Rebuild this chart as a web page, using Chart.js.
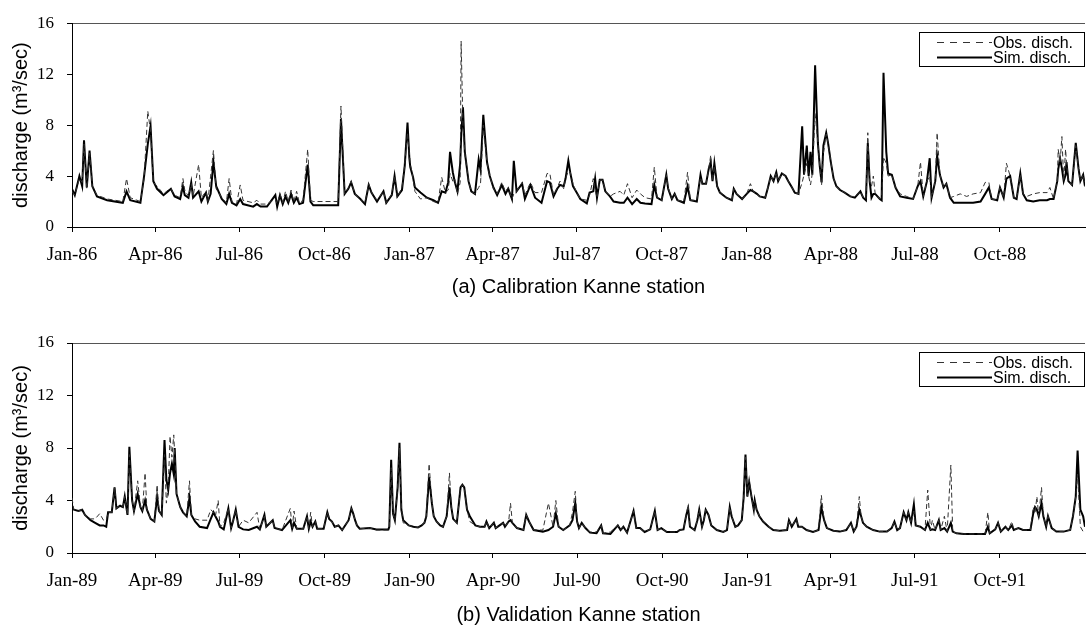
<!DOCTYPE html>
<html>
<head>
<meta charset="utf-8">
<title>Kanne station discharge</title>
<script src="https://cdn.jsdelivr.net/npm/chart.js@4/dist/chart.umd.min.js"></script>
<style>
  html, body { margin: 0; padding: 0; background: #fff; }
  .panel { position: absolute; left: 0; width: 1086px; height: 313px; }
  #panelA { top: 0; }
  #panelB { top: 313px; }
</style>
</head>
<body>
<div class="panel" id="panelA"><canvas id="chartA"></canvas></div>
<div class="panel" id="panelB"><canvas id="chartB"></canvas></div>
<script>
// (a) calibration 1986-1988, x = days since 1 Jan 1986
const calDays = [
  0,3,8,11,13,16,19,22,27,38,
  55,59,63,74,78,82,85,88,92,99,
  104,107,111,117,120,122,126,129,131,137,
  140,145,147,150,153,156,162,167,170,173,
  178,182,185,196,200,204,211,220,222,225,
  228,231,234,237,240,243,246,250,255,258,
  261,288,291,295,299,302,306,312,317,321,
  324,330,337,340,346,349,352,357,360,363,
  365,366,369,371,377,384,391,396,400,404,
  407,409,412,414,417,420,421,423,425,429,
  432,436,440,442,445,449,452,456,460,465,
  469,472,476,478,481,487,490,496,501,508,
  514,517,521,525,528,532,534,537,539,542,
  546,550,557,560,564,566,568,571,574,577,
  582,586,593,597,601,606,611,615,620,627,
  630,633,638,643,645,649,652,655,662,666,
  669,676,680,682,686,689,691,693,695,698,
  701,708,714,716,719,725,730,734,737,741,
  744,750,753,756,759,762,764,768,772,775,
  779,782,786,790,792,795,797,799,801,804,
  807,809,811,813,816,818,821,824,827,831,
  836,842,847,853,856,859,861,863,865,867,
  869,874,876,878,881,883,887,891,896,903,
  910,915,918,921,925,928,930,934,936,939,
  943,946,950,954,961,968,975,983,988,992,
  995,1001,1004,1008,1011,1015,1019,1022,1026,1029,
  1033,1040,1047,1055,1058,1062,1066,1067,1069,1071,
  1073,1075,1076,1078,1082,1086,1089,1091,1094,1096
];
const calObs = [
  2.8,2.5,3.8,3.5,6.5,3.0,5.8,3.2,2.5,2.2,
  2.0,3.8,2.3,2.0,3.8,9.1,7.5,3.5,3.2,2.6,
  2.9,3.0,2.5,2.3,3.8,2.9,2.4,3.4,2.4,4.9,
  2.3,2.8,2.0,4.0,6.0,3.0,2.3,1.9,3.8,2.0,
  1.8,3.3,2.1,1.9,2.1,1.8,1.8,2.2,1.8,2.6,
  1.9,2.8,2.0,2.9,2.0,2.8,1.9,2.1,6.1,2.1,
  2.0,2.0,9.5,2.6,3.1,3.6,2.6,2.2,1.9,3.4,
  2.7,2.1,2.8,1.9,2.6,4.0,2.3,3.1,4.9,7.4,
  5.6,5.0,3.8,2.8,2.2,2.3,2.0,1.9,3.9,2.7,
  2.9,4.2,3.6,3.8,2.6,3.5,14.6,8.0,5.8,3.6,
  2.8,2.6,3.1,3.4,8.0,5.0,4.0,3.0,2.6,3.5,
  2.8,3.1,2.2,2.6,2.8,3.5,2.5,3.5,2.7,2.7,
  4.2,4.2,2.5,3.1,3.6,3.0,3.8,4.4,4.3,3.4,
  2.7,2.2,2.1,2.5,3.8,2.9,2.3,3.7,3.7,2.8,
  2.4,2.6,2.8,2.5,3.4,2.3,2.9,2.6,2.3,2.2,
  4.7,2.3,2.1,4.1,3.1,2.2,2.6,2.1,2.0,4.3,
  2.1,2.1,3.9,3.4,3.4,4.6,5.6,3.6,4.8,3.2,
  2.7,2.3,2.1,3.0,2.6,2.2,2.6,3.4,2.8,2.6,
  2.4,2.3,3.1,4.0,3.6,4.3,3.6,4.2,4.0,3.6,
  3.1,2.7,2.6,3.5,4.1,5.0,4.0,3.3,4.2,8.9,
  6.6,4.8,3.3,5.8,7.3,6.6,5.1,3.8,3.2,2.9,
  2.7,2.4,2.4,2.8,2.3,2.2,7.4,3.6,3.2,4.0,
  2.6,2.2,2.3,5.5,5.0,4.0,4.1,3.1,2.6,2.4,
  2.2,3.2,5.1,2.4,3.6,4.0,2.3,3.6,7.4,4.1,
  3.1,3.4,2.3,2.4,2.6,2.4,2.6,2.7,3.5,3.5,
  2.2,2.1,3.1,2.3,5.0,4.0,2.3,2.2,4.1,2.6,
  2.4,2.6,2.7,2.7,3.1,2.2,3.6,6.1,5.0,7.1,
  3.6,6.1,5.0,3.6,3.3,6.4,4.6,3.6,4.1,3.2
];
const calSim = [
  3.0,2.5,4.0,3.2,6.8,3.1,6.0,3.2,2.4,2.1,
  1.9,2.8,2.1,1.9,4.0,6.5,7.9,3.6,3.0,2.5,
  2.8,3.0,2.4,2.2,3.2,2.5,2.3,3.5,2.3,2.8,
  2.0,2.7,2.0,2.6,5.1,3.2,2.2,1.8,2.6,1.9,
  1.7,2.2,1.8,1.6,1.8,1.6,1.6,2.5,1.6,2.5,
  1.8,2.4,1.9,2.6,1.9,2.3,1.8,1.9,4.9,2.0,
  1.7,1.7,8.5,2.6,3.0,3.5,2.6,2.2,1.8,3.3,
  2.7,2.0,2.8,1.9,2.5,4.0,2.4,2.9,4.8,8.2,
  5.4,4.7,3.9,3.1,2.7,2.3,2.1,1.9,2.8,2.7,
  3.5,5.9,4.3,3.6,2.8,5.0,7.0,9.4,5.9,3.6,
  2.8,2.6,5.3,4.5,8.8,5.1,4.0,3.1,2.5,3.3,
  2.6,3.0,2.2,5.2,2.8,3.4,2.2,3.3,2.3,1.9,
  3.6,3.5,2.4,3.0,3.3,3.2,3.8,5.2,4.3,3.2,
  2.7,2.2,1.85,2.7,2.8,3.8,2.3,3.7,3.7,2.8,
  2.4,2.0,1.9,1.9,2.3,1.8,2.2,1.9,1.85,1.8,
  3.3,2.3,2.1,4.1,3.0,2.2,2.6,2.1,1.9,3.2,
  2.1,2.0,4.1,3.4,3.4,4.6,5.1,3.6,5.0,3.2,
  2.7,2.3,2.1,3.0,2.6,2.2,2.6,2.9,2.8,2.6,
  2.4,2.3,3.1,4.0,3.6,4.3,3.6,4.2,4.0,3.6,
  3.1,2.7,2.6,7.9,4.1,6.4,4.0,5.9,4.1,12.7,
  6.6,4.8,3.5,6.4,7.4,6.6,5.1,3.8,3.2,2.9,
  2.7,2.4,2.3,2.8,2.3,2.1,6.6,3.6,2.3,2.6,
  2.6,2.2,2.1,12.1,5.9,4.2,4.1,3.1,2.4,2.3,
  2.2,3.2,3.6,2.4,3.6,5.4,2.3,3.6,5.6,4.1,
  3.1,3.4,2.3,1.9,1.9,1.9,1.9,2.0,2.6,3.1,
  2.2,2.1,3.1,2.3,3.8,4.0,2.3,2.2,4.2,2.6,
  2.1,2.0,2.1,2.1,2.2,2.2,3.6,4.5,5.4,4.6,
  3.6,4.1,5.1,3.6,3.3,6.6,4.6,3.6,4.1,3.2
];
const calTickDays = [0, 90, 181, 273, 365, 455, 546, 638, 730, 821, 912, 1004];
const calTickLabels = ['Jan-86', 'Apr-86', 'Jul-86', 'Oct-86', 'Jan-87', 'Apr-87',
  'Jul-87', 'Oct-87', 'Jan-88', 'Apr-88', 'Jul-88', 'Oct-88'];

// (b) validation 1989-1991, x = days since 1 Jan 1989
const valDays = [
  0,2,7,11,14,20,25,30,34,37,
  39,43,46,48,52,55,57,60,62,65,
  67,71,74,76,79,81,85,89,92,94,
  97,100,102,104,106,108,110,111,113,117,
  120,124,127,129,133,138,146,150,153,155,
  158,160,164,169,172,174,177,180,185,191,
  200,203,208,210,217,219,227,236,238,240,
  243,250,254,256,258,260,263,265,272,276,
  278,281,284,288,292,299,302,304,306,308,
  311,322,329,342,343,345,347,349,352,354,
  356,358,364,369,374,378,381,383,386,389,
  391,394,398,401,405,408,410,412,416,420,
  422,424,427,430,436,441,446,448,451,456,
  458,466,468,472,474,476,481,488,491,494,
  499,509,515,520,523,526,531,538,541,544,
  546,548,551,555,560,567,572,574,582,590,
  593,596,600,607,610,614,619,625,630,633,
  637,643,654,657,661,664,666,668,673,676,
  678,681,683,685,688,691,697,704,708,711,
  713,717,720,724,726,728,730,732,734,737,
  738,740,743,747,753,758,765,773,775,778,
  783,785,789,794,801,807,810,813,816,823,
  830,837,842,845,848,851,853,855,859,866,
  873,881,886,889,892,895,899,902,904,907,
  910,912,917,922,925,928,930,933,937,939,
  943,946,950,952,956,964,978,987,990,992,
  998,1001,1004,1009,1012,1016,1018,1023,1028,1036,
  1039,1041,1043,1045,1048,1050,1053,1055,1059,1064,
  1072,1079,1082,1085,1087,1090,1093,1095
];
const valObs = [
  4.2,3.3,3.2,3.3,2.9,2.6,2.6,3.0,2.5,2.5,
  3.1,3.1,5.0,3.4,3.6,3.5,4.3,2.9,7.5,4.0,
  3.2,5.5,3.5,3.2,6.1,3.3,2.6,2.4,5.2,3.2,
  2.9,7.5,3.8,5.0,8.9,7.3,9.0,7.5,4.5,3.5,
  3.1,2.8,5.5,2.9,2.6,2.5,2.5,3.3,3.1,2.8,
  4.0,2.0,2.3,3.4,1.9,2.4,3.3,2.0,2.5,2.3,
  3.1,1.8,2.8,2.0,2.5,1.9,1.75,3.4,1.9,3.2,
  1.85,1.85,2.8,1.85,3.1,2.0,2.4,1.85,1.85,3.1,
  2.6,2.4,2.0,2.1,1.75,2.5,3.4,3.0,2.5,2.1,
  1.85,1.9,1.75,1.75,2.0,6.5,3.0,2.5,5.0,8.0,
  3.5,2.3,2.1,2.0,1.95,2.1,2.3,2.8,6.8,3.8,
  2.8,2.4,2.1,2.0,2.8,6.1,3.5,2.6,2.3,4.9,
  5.2,5.0,3.3,2.4,2.1,2.0,2.0,2.4,1.9,2.3,
  1.9,2.3,2.0,2.4,3.8,2.3,1.9,1.75,2.9,2.4,
  1.75,1.75,3.8,2.0,4.0,2.0,1.75,2.1,3.1,4.7,
  2.4,1.9,2.3,1.9,1.6,1.6,2.1,1.5,1.6,2.1,
  1.75,2.0,1.55,3.2,1.9,1.9,1.6,1.8,3.2,1.75,
  1.9,1.6,1.6,1.75,1.8,2.9,3.7,2.0,1.75,2.5,
  3.3,2.0,2.5,3.3,2.9,2.1,1.75,1.6,1.75,3.5,
  2.8,2.0,2.1,2.5,4.2,7.3,4.3,5.6,4.5,3.3,
  4.0,3.3,2.8,2.4,2.0,1.75,1.7,1.75,2.5,2.0,
  2.6,2.0,2.0,1.75,1.6,1.75,4.4,2.5,1.9,1.7,
  1.63,1.75,2.3,1.63,2.0,4.3,2.8,2.3,2.0,1.75,
  1.63,1.63,1.9,2.4,1.75,1.9,3.1,2.5,3.1,2.3,
  3.2,2.1,2.0,1.75,4.8,1.75,2.5,1.75,2.5,1.75,
  2.8,1.63,6.7,1.63,1.5,1.45,1.45,1.45,3.1,1.5,
  1.8,2.3,1.63,2.0,1.75,2.4,1.75,1.9,1.75,1.75,
  3.5,3.0,4.3,2.8,5.0,2.8,2.0,2.8,1.9,1.63,
  1.63,1.75,2.8,4.3,6.0,2.0,1.63,1.5
];
const valSim = [
  3.4,3.3,3.2,3.3,2.9,2.5,2.3,2.1,2.1,2.0,
  3.1,3.1,5.0,3.4,3.6,3.5,4.3,2.9,8.1,4.0,
  3.2,4.5,3.5,3.2,4.0,3.3,2.6,2.4,4.3,3.2,
  2.9,8.6,5.6,4.8,6.1,6.8,6.0,8.0,4.5,3.5,
  3.1,2.8,4.2,2.9,2.4,2.0,1.9,2.6,3.1,2.8,
  2.4,2.0,1.8,3.4,1.9,2.4,3.3,2.0,1.8,1.75,
  2.0,1.8,2.9,2.0,2.5,1.9,1.75,2.5,1.85,2.3,
  1.85,1.85,2.8,1.85,2.4,2.0,2.4,1.85,1.85,3.1,
  2.6,2.4,2.0,2.1,1.75,2.5,3.4,3.0,2.5,2.1,
  1.85,1.9,1.8,1.8,2.0,7.1,3.0,2.5,5.0,8.4,
  3.3,2.5,2.1,2.0,1.95,2.1,2.3,2.8,5.8,3.8,
  2.8,2.4,2.1,2.0,2.8,5.0,3.5,2.6,2.3,5.0,
  5.2,5.0,3.3,2.8,2.1,2.0,2.0,2.4,1.9,2.3,
  1.9,2.3,2.0,2.4,2.5,2.3,1.9,1.75,2.9,2.4,
  1.75,1.63,1.75,2.0,3.0,2.0,1.75,2.1,2.5,3.8,
  2.4,1.9,2.3,1.9,1.55,1.5,2.1,1.5,1.45,2.1,
  1.75,2.0,1.55,3.2,1.9,1.9,1.6,1.8,3.2,1.75,
  1.9,1.6,1.6,1.75,1.8,2.9,3.4,2.0,1.75,2.5,
  3.3,2.0,2.5,3.3,2.9,2.1,1.75,1.6,1.75,3.5,
  2.8,2.0,2.1,2.5,4.2,7.5,4.3,5.4,4.5,3.3,
  4.0,3.3,2.8,2.4,2.0,1.75,1.7,1.75,2.5,2.0,
  2.6,2.0,2.0,1.75,1.6,1.75,3.5,2.5,1.9,1.7,
  1.63,1.75,2.3,1.63,2.0,3.3,2.8,2.3,2.0,1.75,
  1.63,1.63,1.9,2.4,1.75,1.9,3.1,2.5,3.1,2.3,
  3.7,2.1,2.0,1.75,2.3,1.75,1.8,1.75,2.5,1.75,
  1.9,1.63,2.3,1.63,1.5,1.45,1.45,1.45,2.0,1.5,
  1.8,2.3,1.63,2.0,1.75,2.1,1.75,1.9,1.75,1.75,
  3.0,3.5,3.3,2.8,3.8,2.8,2.0,2.8,1.9,1.63,
  1.63,1.75,2.8,4.3,7.8,3.3,2.8,2.0
];
const valTickDays = [0, 90, 181, 273, 365, 455, 546, 638, 730, 820, 911, 1003];
const valTickLabels = ['Jan-89', 'Apr-89', 'Jul-89', 'Oct-89', 'Jan-90', 'Apr-90',
  'Jul-90', 'Oct-90', 'Jan-91', 'Apr-91', 'Jul-91', 'Oct-91'];

const yTicks = [0, 4, 8, 12, 16];
const seriesNames = ['Obs. disch.', 'Sim. disch.'];

const serif = "'Liberation Serif', 'Times New Roman', serif";
const sans = "'Liberation Sans', Arial, sans-serif";

// boxed legend in the upper right corner of each plot
const boxLegend = {
  id: 'boxLegend',
  afterDraw(chart) {
    const ctx = chart.ctx;
    const area = chart.chartArea;
    const w = 165, h = 34;
    const left = Math.round(area.right) - 166;
    const top = Math.round(area.top) + 9;
    ctx.save();
    ctx.fillStyle = '#fff';
    ctx.fillRect(left, top, w, h);
    ctx.strokeStyle = '#000';
    ctx.lineWidth = 1;
    ctx.strokeRect(left + 0.5, top + 0.5, w, h);
    ctx.font = '16px ' + sans;
    ctx.textBaseline = 'middle';
    chart.data.datasets.forEach((ds, i) => {
      const y = top + 10.5 + i * 15;
      ctx.beginPath();
      ctx.setLineDash(i === 0 ? [7, 6] : []);
      ctx.lineWidth = ds.borderWidth;
      ctx.strokeStyle = ds.borderColor;
      ctx.moveTo(left + 18, y);
      ctx.lineTo(left + 73, y);
      ctx.stroke();
      ctx.setLineDash([]);
      ctx.fillStyle = '#000';
      ctx.fillText(ds.label, left + 74, y + 1);
    });
    ctx.restore();
  }
};

function points(days, vals) {
  return days.map((d, i) => ({ x: d, y: vals[i] }));
}

function makePanel(id, days, obs, sim, tickDays, tickLabels, lastDay, caption, padTop, axisHeight, captionPad) {
  return new Chart(document.getElementById(id), {
    type: 'line',
    data: {
      datasets: [
        { label: seriesNames[0], data: points(days, obs), borderColor: '#333', borderWidth: 1,
          borderDash: [5, 3], pointRadius: 0, tension: 0 },
        { label: seriesNames[1], data: points(days, sim), borderColor: '#000', borderWidth: 2,
          pointRadius: 0, tension: 0 }
      ]
    },
    options: {
      responsive: true,
      maintainAspectRatio: false,
      animation: false,
      layout: { padding: { top: padTop, right: 1, bottom: 0, left: 0 } },
      plugins: { legend: { display: false }, tooltip: { enabled: false } },
      scales: {
        x: {
          type: 'linear',
          min: 0,
          max: lastDay,
          afterBuildTicks: s => { s.ticks = tickDays.map(v => ({ value: v })); },
          afterFit: s => { s.height = axisHeight; },
          ticks: {
            autoSkip: false, maxRotation: 0, padding: 12, color: '#000',
            font: { family: serif, size: 19 },
            callback: (v, i) => tickLabels[i]
          },
          grid: { drawOnChartArea: false, tickLength: 5, tickColor: '#000' },
          border: { color: '#000', width: 1 },
          title: {
            display: true, text: caption, color: '#000',
            font: { family: sans, size: 20, lineHeight: 1.1 },
            padding: { top: 0, bottom: captionPad }
          }
        },
        y: {
          min: 0,
          max: 16,
          afterBuildTicks: s => { s.ticks = yTicks.map(v => ({ value: v })); },
          afterFit: s => { s.width = 72; },
          ticks: { padding: 13, color: '#000', font: { family: serif, size: 17 } },
          grid: {
            color: c => (c.tick && c.tick.value === 16) ? '#555' : 'rgba(0,0,0,0)',
            tickLength: 5, tickColor: '#000'
          },
          border: { color: '#000', width: 1 },
          title: {
            display: true, text: 'discharge (m³/sec)', color: '#000',
            font: { family: sans, size: 20 }, padding: { top: 9, bottom: 0 }
          }
        }
      }
    },
    plugins: [boxLegend]
  });
}

makePanel('chartA', calDays, calObs, calSim, calTickDays, calTickLabels, 1096,
  '(a) Calibration Kanne station', 17, 86, 15);
makePanel('chartB', valDays, valObs, valSim, valTickDays, valTickLabels, 1095,
  '(b) Validation Kanne station', 30, 73, 0);
</script>
</body>
</html>
